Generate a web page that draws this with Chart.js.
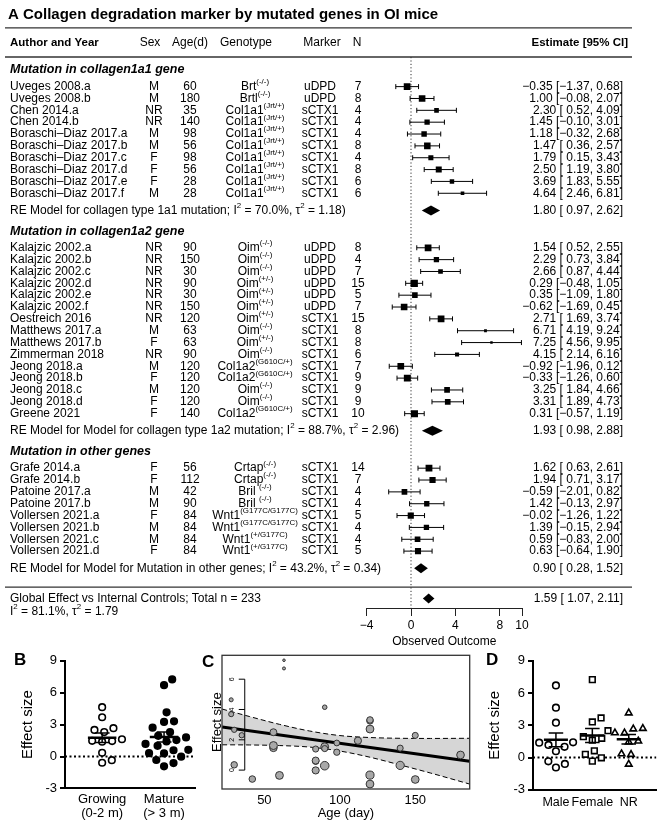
<!DOCTYPE html>
<html>
<head>
<meta charset="utf-8">
<script src="https://cdn.jsdelivr.net/npm/chart.js@4.4.1/dist/chart.umd.min.js"></script>
<style>
html, body { margin: 0; padding: 0; background: #fff; }
#wrap { position: relative; width: 662px; height: 825px; overflow: hidden; background: #fff;
        font-family: "Liberation Sans", Arial, Helvetica, sans-serif; }
canvas { position: absolute; }
.lab { position: absolute; font-weight: bold; font-size: 17px; line-height: 17px; }
</style>
</head>
<body>
<div id="wrap">
  <canvas id="forest" width="662" height="655" style="left:0;top:0"></canvas>
  <canvas id="panelB" width="220" height="175" style="left:0;top:650px"></canvas>
  <canvas id="panelC" width="275" height="175" style="left:200px;top:650px"></canvas>
  <canvas id="panelD" width="192" height="175" style="left:470px;top:650px"></canvas>
  <div class="lab" style="left:14px;top:651px">B</div>
  <div class="lab" style="left:202px;top:653px">C</div>
  <div class="lab" style="left:486px;top:651px">D</div>
</div>
<script>
const FONT = '"Liberation Sans", Arial, Helvetica, sans-serif';
Chart.defaults.font.family = FONT;
Chart.defaults.color = '#000';

// ---------- panel A data ----------
const authors = [
  'Uveges 2008.a', 'Uveges 2008.b', 'Chen 2014.a', 'Chen 2014.b',
  'Boraschi–Diaz 2017.a', 'Boraschi–Diaz 2017.b', 'Boraschi–Diaz 2017.c',
  'Boraschi–Diaz 2017.d', 'Boraschi–Diaz 2017.e', 'Boraschi–Diaz 2017.f',
  'Kalajzic 2002.a', 'Kalajzic 2002.b', 'Kalajzic 2002.c', 'Kalajzic 2002.d',
  'Kalajzic 2002.e', 'Kalajzic 2002.f', 'Oestreich 2016', 'Matthews 2017.a',
  'Matthews 2017.b', 'Zimmerman 2018', 'Jeong 2018.a', 'Jeong 2018.b',
  'Jeong 2018.c', 'Jeong 2018.d', 'Greene 2021',
  'Grafe 2014.a', 'Grafe 2014.b', 'Patoine 2017.a', 'Patoine 2017.b',
  'Vollersen 2021.a', 'Vollersen 2021.b', 'Vollersen 2021.c', 'Vollersen 2021.d'
];
const mutGroup = [0,0,0,0,0,0,0,0,0,0, 1,1,1,1,1,1,1,1,1,1,1,1,1,1,1, 2,2,2,2,2,2,2,2];
const sex = ['M','M','NR','NR','M','M','F','F','F','M',
  'NR','NR','NR','NR','NR','NR','NR','M','F','NR','M','F','M','F','F',
  'F','F','M','M','F','M','M','F'];
const ageDays = [60,180,35,140,98,56,98,56,28,28,
  90,150,30,90,30,150,120,63,63,90,120,120,120,120,140,
  56,112,42,90,84,84,84,84];
const genotype = [
  'Brt^{(-/-)}', 'Brtl^{(-/-)}', 'Col1a1^{(Jrt/+)}', 'Col1a1^{(Jrt/+)}', 'Col1a1^{(Jrt/+)}',
  'Col1a1^{(Jrt/+)}', 'Col1a1^{(Jrt/+)}', 'Col1a1^{(Jrt/+)}', 'Col1a1^{(Jrt/+)}', 'Col1a1^{(Jrt/+)}',
  'Oim^{(-/-)}', 'Oim^{(-/-)}', 'Oim^{(-/-)}', 'Oim^{(+/-)}', 'Oim^{(+/-)}', 'Oim^{(+/-)}',
  'Oim^{(+/-)}', 'Oim^{(-/-)}', 'Oim^{(+/-)}', 'Oim^{(-/-)}', 'Col1a2^{(G610C/+)}',
  'Col1a2^{(G610C/+)}', 'Oim^{(-/-)}', 'Oim^{(-/-)}', 'Col1a2^{(G610C/+)}',
  'Crtap^{(-/-)}', 'Crtap^{(-/-)}', 'Bril ^{(-/-)}', 'Bril ^{(-/-)}',
  'Wnt1^{(G177C/G177C)}', 'Wnt1^{(G177C/G177C)}', 'Wnt1^{(+/G177C)}', 'Wnt1^{(+/G177C)}'
];
const marker = ['uDPD','uDPD','sCTX1','sCTX1','sCTX1','sCTX1','sCTX1','sCTX1','sCTX1','sCTX1',
  'uDPD','uDPD','uDPD','uDPD','uDPD','uDPD','sCTX1','sCTX1','sCTX1','sCTX1','sCTX1','sCTX1','sCTX1','sCTX1','sCTX1',
  'sCTX1','sCTX1','sCTX1','sCTX1','sCTX1','sCTX1','sCTX1','sCTX1'];
const nMice = [7,8,4,4,4,8,4,8,6,6, 8,4,7,15,5,7,15,8,8,6,7,9,9,9,10, 14,7,4,4,5,4,4,5];
const estimate = [-0.35,1.00,2.30,1.45,1.18,1.47,1.79,2.50,3.69,4.64,
  1.54,2.29,2.66,0.29,0.35,-0.62,2.71,6.71,7.25,4.15,-0.92,-0.33,3.25,3.31,0.31,
  1.62,1.94,-0.59,1.42,-0.02,1.39,0.59,0.63];
const ciLow = [-1.37,-0.08,0.52,-0.10,-0.32,0.36,0.15,1.19,1.83,2.46,
  0.52,0.73,0.87,-0.48,-1.09,-1.69,1.69,4.19,4.56,2.14,-1.96,-1.26,1.84,1.89,-0.57,
  0.63,0.71,-2.01,-0.13,-1.26,-0.15,-0.83,-0.64];
const ciHigh = [0.68,2.07,4.09,3.01,2.68,2.57,3.43,3.80,5.55,6.81,
  2.55,3.84,4.44,1.05,1.80,0.45,3.74,9.24,9.95,6.16,0.12,0.60,4.66,4.73,1.19,
  2.61,3.17,0.82,2.97,1.22,2.94,2.00,1.90];

const groupTitles = ['Mutation in collagen1a1 gene', 'Mutation in collagen1a2 gene', 'Mutation in other genes'];
const reLabels = [
  'RE Model for collagen type 1a1 mutation; I^{2} = 70.0%, τ^{2} = 1.18)',
  'RE Model for Model for collagen type 1a2 mutation; I^{2} = 88.7%, τ^{2} = 2.96)',
  'RE Model for Model for Mutation in other genes; I^{2} = 43.2%, τ^{2} = 0.34)'
];
const reEst = [1.80, 1.93, 0.90];
const reLow = [0.97, 0.98, 0.28];
const reHigh = [2.62, 2.88, 1.52];
const globalLabel = 'Global Effect vs Internal Controls; Total n = 233';
const globalStats = 'I^{2} = 81.1%, τ^{2} = 1.79';
const globalEst = 1.59, globalLow = 1.07, globalHigh = 2.11;
const forestTicks = [-4, 0, 4, 8, 10];

// ---------- panel B / C / D data ----------
const growingEff = [4.64,3.69,2.66,2.50,2.30,1.62,1.47,1.45,1.39,0.35,-0.35,-0.59];
const matureEff = [7.25,6.71,4.15,3.31,3.25,2.71,2.29,1.94,1.79,1.54,1.42,1.18,1.00,0.63,0.59,0.31,0.29,-0.02,-0.33,-0.62,-0.92];
const bCats = [['Growing', '(0-2 m)'], ['Mature', '(> 3 m)']];
const dCats = ['Male', 'Female', 'NR'];
const fitAge = [22, 186];
const fitEff = [2.85, 0.59];
const bandAge = [22, 40, 60, 80, 100, 120, 140, 160, 186];
const bandUpper = [4.03, 3.54, 3.02, 2.58, 2.28, 2.15, 2.10, 2.09, 2.10];
const bandLower = [1.67, 1.66, 1.62, 1.52, 1.26, 0.85, 0.34, -0.19, -0.92];
const cAxisTicks = [50, 100, 150];
const strayTicks = [0, 2, 4, 6];

// ---------- forest row layout ----------
const rows = [], titleRows = [], reRows = [];
let r = 1;
for (let g = 0; g < 3; g++) {
  titleRows[g] = r - 1.4;
  mutGroup.forEach((m, i) => { if (m === g) { rows[i] = r; r += 1; } });
  reRows[g] = r - 1 + 1.45;
  r = reRows[g] + 1.75 + 1.4;
}
const ruleRow = reRows[2] + 1.58;
const globalRow = reRows[2] + 2.55;
const statsRow = globalRow + 1.1;

// marker sizes from the study weights
const se = ciHigh.map((h, i) => (h - ciLow[i]) / 3.92);
const wt = se.map(s => 1 / (s * s + 1.79));
const wMin = Math.min(...wt), wMax = Math.max(...wt);
const wScaled = wt.map(w => (w - wMin) / (wMax - wMin));

const minus = v => (v < 0 ? '\u2212' : '') + Math.abs(v).toFixed(2);
const ciText = (e, lo, hi) => minus(e) + ' [' + (lo < 0 ? '' : ' ') + minus(lo) + ', ' + minus(hi) + ']';

function richText(ctx, str, x, y, size, align, style) {
  const parts = [];
  str.split(/(\^\{[^}]*\})/).forEach(p => {
    if (!p) return;
    if (p.startsWith('^{')) parts.push({ t: p.slice(2, -1), sup: true });
    else parts.push({ t: p, sup: false });
  });
  const font = s => (style || '') + ' ' + s + 'px ' + FONT;
  let w = 0;
  parts.forEach(p => { ctx.font = font(p.sup ? size * 0.66 : size); p.w = ctx.measureText(p.t).width; w += p.w; });
  let cx = align === 'center' ? x - w / 2 : align === 'right' ? x - w : x;
  ctx.textAlign = 'left';
  ctx.textBaseline = 'middle';
  parts.forEach(p => {
    ctx.font = font(p.sup ? size * 0.66 : size);
    ctx.fillText(p.t, cx, p.sup ? y - size * 0.4 : y);
    cx += p.w;
  });
}

const forestPlugin = {
  id: 'forestPlugin',
  beforeDatasetsDraw(chart) {
    const { ctx, chartArea: a, scales: { x, y } } = chart;
    ctx.save();
    ctx.strokeStyle = '#333';
    ctx.lineWidth = 1;
    ctx.setLineDash([1.2, 2.2]);
    const x0 = x.getPixelForValue(0);
    ctx.beginPath(); ctx.moveTo(x0, a.top); ctx.lineTo(x0, a.bottom); ctx.stroke();
    ctx.setLineDash([]);
    ctx.strokeStyle = '#000';
    estimate.forEach((e, i) => {
      const yy = y.getPixelForValue(rows[i]);
      const x1 = x.getPixelForValue(ciLow[i]), x2 = x.getPixelForValue(ciHigh[i]);
      ctx.beginPath();
      ctx.moveTo(x1, yy); ctx.lineTo(x2, yy);
      ctx.moveTo(x1, yy - 2.5); ctx.lineTo(x1, yy + 2.5);
      ctx.moveTo(x2, yy - 2.5); ctx.lineTo(x2, yy + 2.5);
      ctx.stroke();
    });
    const diamond = (e, lo, hi, row) => {
      const yy = y.getPixelForValue(row);
      ctx.beginPath();
      ctx.moveTo(x.getPixelForValue(lo), yy);
      ctx.lineTo(x.getPixelForValue(e), yy - 5);
      ctx.lineTo(x.getPixelForValue(hi), yy);
      ctx.lineTo(x.getPixelForValue(e), yy + 5);
      ctx.closePath();
      ctx.fillStyle = '#000';
      ctx.fill();
    };
    reEst.forEach((e, g) => diamond(e, reLow[g], reHigh[g], reRows[g]));
    diamond(globalEst, globalLow, globalHigh, globalRow);
    ctx.restore();
  },
  afterDraw(chart) {
    const { ctx, scales: { y } } = chart;
    ctx.save();
    ctx.fillStyle = '#000';
    // rules
    ctx.strokeStyle = '#333';
    ctx.lineWidth = 1.3;
    [-3.95, -1.5, ruleRow].forEach(rr => {
      const yy = y.getPixelForValue(rr);
      ctx.beginPath(); ctx.moveTo(5, yy); ctx.lineTo(632, yy); ctx.stroke();
    });
    // header
    const hy = y.getPixelForValue(-2.68);
    richText(ctx, 'Author and Year', 10, hy, 11.5, 'left', 'bold');
    richText(ctx, 'Sex', 150, hy, 12, 'center');
    richText(ctx, 'Age(d)', 190, hy, 12, 'center');
    richText(ctx, 'Genotype', 246, hy, 12, 'center');
    richText(ctx, 'Marker', 322, hy, 12, 'center');
    richText(ctx, 'N', 357, hy, 12, 'center');
    richText(ctx, 'Estimate [95% CI]', 628, hy, 11.5, 'right', 'bold');
    // group titles and RE rows
    groupTitles.forEach((t, g) => {
      richText(ctx, t, 10, y.getPixelForValue(titleRows[g]), 12.5, 'left', 'italic bold');
      const ry = y.getPixelForValue(reRows[g]);
      richText(ctx, reLabels[g], 10, ry, 12, 'left');
      richText(ctx, ciText(reEst[g], reLow[g], reHigh[g]), 623, ry, 12, 'right');
    });
    // studies
    authors.forEach((name, i) => {
      const yy = y.getPixelForValue(rows[i]);
      richText(ctx, name, 10, yy, 12, 'left');
      richText(ctx, sex[i], 154, yy, 12, 'center');
      richText(ctx, String(ageDays[i]), 190, yy, 12, 'center');
      richText(ctx, genotype[i], 255, yy, 12, 'center');
      richText(ctx, marker[i], 320, yy, 12, 'center');
      richText(ctx, String(nMice[i]), 358, yy, 12, 'center');
      richText(ctx, ciText(estimate[i], ciLow[i], ciHigh[i]), 623, yy, 12, 'right');
    });
    const gy = y.getPixelForValue(globalRow);
    richText(ctx, globalLabel, 10, gy, 12, 'left');
    richText(ctx, ciText(globalEst, globalLow, globalHigh), 623, gy, 12, 'right');
    richText(ctx, globalStats, 10, y.getPixelForValue(statsRow), 12, 'left');
    ctx.restore();
  }
};

new Chart(document.getElementById('forest'), {
  type: 'scatter',
  data: {
    datasets: [{
      data: estimate.map((e, i) => ({ x: e, y: rows[i] })),
      pointStyle: 'rect',
      pointRadius: wScaled.map(s => 3.46 * (0.5 + s)),
      pointBackgroundColor: '#000',
      pointBorderWidth: 0
    }]
  },
  options: {
    responsive: false, animation: false, events: [],
    layout: { padding: { left: 8, right: 0, top: 0, bottom: 6.2 } },
    plugins: {
      legend: { display: false }, tooltip: { enabled: false },
      title: {
        display: true, align: 'start', color: '#000',
        text: 'A Collagen degradation marker by mutated genes in OI mice',
        font: { size: 15, weight: 'bold' }, padding: { top: 6, bottom: 33 }
      }
    },
    scales: {
      x: {
        type: 'linear', min: -4, max: 10,
        border: { color: '#222', width: 1 },
        grid: { drawOnChartArea: false, tickLength: 8, color: '#222', lineWidth: 1 },
        afterBuildTicks: s => { s.ticks = forestTicks.map(v => ({ value: v })); },
        ticks: { font: { size: 12 }, padding: 2, maxRotation: 0,
          callback: v => (v < 0 ? '\u2212' + Math.abs(v) : String(v)) },
        title: { display: true, text: 'Observed Outcome', font: { size: 12 }, padding: { top: 0, bottom: 0 } }
      },
      y: {
        type: 'linear', reverse: true, min: -1.5, max: 45,
        ticks: { display: false }, grid: { display: false }, border: { display: false },
        afterFit: s => { s.width = 358.6; }
      },
      yRight: {
        type: 'linear', position: 'right',
        ticks: { display: false }, grid: { display: false }, border: { display: false },
        afterFit: s => { s.width = 140; }
      }
    }
  },
  plugins: [forestPlugin]
});

// ---------- dot plots (B, D) ----------
function swarm(vals, pxY, dist) {
  const idx = vals.map((v, i) => i).sort((a, b) => vals[a] - vals[b]);
  const placed = [], out = [];
  idx.forEach(i => {
    const yy = vals[i] * pxY;
    const cands = [0];
    placed.forEach(p => {
      const dy = Math.abs(p.y - yy);
      if (dy < dist) { const dx = Math.sqrt(dist * dist - dy * dy); cands.push(p.x + dx, p.x - dx); }
    });
    cands.sort((a, b) => Math.abs(a) - Math.abs(b));
    let best = 0;
    for (const c of cands) {
      if (placed.every(p => Math.hypot(p.x - c, p.y - yy) >= dist - 1e-6)) { best = c; break; }
    }
    placed.push({ x: best, y: yy });
    out[i] = best;
  });
  return out;
}
const mean = a => a.reduce((s, v) => s + v, 0) / a.length;
const sem = a => { const m = mean(a); return Math.sqrt(a.reduce((s, v) => s + (v - m) * (v - m), 0) / (a.length - 1)) / Math.sqrt(a.length); };
const seg = (pts, width, order, dash) => ({
  data: pts.map(p => ({ x: p[0], y: p[1] })), showLine: true, borderColor: '#000',
  borderWidth: width, pointRadius: 0, borderDash: dash || [], order: order
});

function dotChart(id, o) {
  const datasets = [];
  const pxX = o.plotW / (o.xMax - o.xMin), pxY = o.plotH / 12;
  o.groups.forEach((vals, g) => {
    const off = swarm(vals, pxY, 10);
    const m = mean(vals), s = sem(vals);
    datasets.push(seg([[g - o.half, m], [g + o.half, m]], 2.5, 0));
    datasets.push(seg([[g, m - s], [g, m + s]], 1.5, 0));
    datasets.push(seg([[g - o.cap, m + s], [g + o.cap, m + s]], 1.5, 0));
    datasets.push(seg([[g - o.cap, m - s], [g + o.cap, m - s]], 1.5, 0));
    datasets.push({
      data: vals.map((v, k) => ({ x: g + off[k] / pxX, y: v })),
      pointStyle: o.styles[g].shape, pointRadius: o.styles[g].r,
      pointBorderWidth: 1.6, pointBorderColor: '#000', pointBackgroundColor: o.styles[g].fill, order: 5
    });
  });
  datasets.push(seg([[o.xMin, 0], [o.xMax, 0]], 2, 6, [2, 2.5]));
  new Chart(document.getElementById(id), {
    type: 'scatter',
    data: { datasets },
    options: {
      responsive: false, animation: false, events: [],
      layout: { padding: { left: 0, right: o.padR, top: o.padT, bottom: o.padB } },
      plugins: { legend: { display: false }, tooltip: { enabled: false } },
      scales: {
        x: {
          type: 'linear', min: o.xMin, max: o.xMax,
          border: { color: '#000', width: 2 },
          grid: { display: false, drawTicks: false },
          afterBuildTicks: s => { s.ticks = o.cats.map((c, i) => ({ value: i })); },
          ticks: { font: { size: o.catSize, lineHeight: 1.1 }, padding: o.tickPad, maxRotation: 0, autoSkip: false,
            callback: v => o.cats[v] }
        },
        y: {
          type: 'linear', min: -3, max: 9,
          border: { color: '#000', width: 2 },
          grid: { drawOnChartArea: false, tickLength: 5, color: '#000', lineWidth: 2 },
          ticks: { stepSize: 3, font: { size: 13 }, padding: 3 },
          title: { display: true, text: 'Effect size', font: { size: 15 }, padding: { top: o.titlePad, bottom: 0 } },
          afterFit: s => { s.width = o.axisW; }
        }
      }
    }
  });
}

dotChart('panelB', {
  groups: [growingEff, matureEff], cats: bCats, catSize: 13,
  styles: [{ shape: 'circle', r: 3.3, fill: '#fff' }, { shape: 'circle', r: 3.3, fill: '#000' }],
  xMin: -0.6, xMax: 1.5, plotW: 130, plotH: 129, half: 0.23, cap: 0.12,
  padR: 25, padT: 7, padB: 0, tickPad: 4, titlePad: 19, axisW: 65
});

dotChart('panelD', {
  groups: dCats.map(c => estimate.filter((e, i) => sex[i] === (c === 'Male' ? 'M' : c === 'Female' ? 'F' : 'NR'))),
  cats: dCats, catSize: 12.5,
  styles: [{ shape: 'circle', r: 3.3, fill: '#fff' }, { shape: 'rect', r: 4, fill: '#fff' }, { shape: 'triangle', r: 3.8, fill: '#fff' }],
  xMin: -0.63, xMax: 2.76, plotW: 129, plotH: 128, half: 0.33, cap: 0.2,
  padR: 0, padT: 10, padB: 9.4, tickPad: 6, titlePad: 16, axisW: 63
});

// ---------- meta-regression (C) ----------
const cPlugin = {
  id: 'cPlugin',
  afterDatasetsDraw(chart) {
    const { ctx, chartArea: a, scales: { x, y } } = chart;
    ctx.save();
    ctx.strokeStyle = '#333';
    ctx.lineWidth = 1.3;
    ctx.strokeRect(a.left, a.top, a.right - a.left, a.bottom - a.top);
    const ax = x.getPixelForValue(37);
    ctx.strokeStyle = '#000';
    ctx.lineWidth = 1;
    ctx.beginPath();
    ctx.moveTo(ax, y.getPixelForValue(strayTicks[0]));
    ctx.lineTo(ax, y.getPixelForValue(strayTicks[strayTicks.length - 1]));
    strayTicks.forEach(t => { const yy = y.getPixelForValue(t); ctx.moveTo(ax - 6, yy); ctx.lineTo(ax, yy); });
    ctx.stroke();
    ctx.fillStyle = '#000';
    ctx.font = '7px ' + FONT;
    ctx.textAlign = 'center';
    ctx.textBaseline = 'middle';
    strayTicks.forEach(t => {
      ctx.save();
      ctx.translate(ax - 13, y.getPixelForValue(t));
      ctx.rotate(-Math.PI / 2);
      ctx.fillText(String(t), 0, 0);
      ctx.restore();
    });
    ctx.save();
    ctx.translate(17, (a.top + a.bottom) / 2);
    ctx.rotate(-Math.PI / 2);
    ctx.font = '13px ' + FONT;
    ctx.fillText('Effect size', 0, 0);
    ctx.restore();
    ctx.restore();
  }
};

new Chart(document.getElementById('panelC'), {
  type: 'scatter',
  data: {
    datasets: [
      { data: ageDays.map((a, i) => ({ x: a, y: estimate[i] })),
        pointRadius: wScaled.map(s => 1.3 + 3 * s), pointBackgroundColor: '#a8a8a8',
        pointBorderColor: '#333', pointBorderWidth: 1, order: 0 },
      { data: fitAge.map((a, i) => ({ x: a, y: fitEff[i] })), showLine: true,
        borderColor: '#000', borderWidth: 3, pointRadius: 0, order: 1 },
      { data: bandAge.map((a, i) => ({ x: a, y: bandUpper[i] })), showLine: true,
        borderColor: '#000', borderWidth: 1, borderDash: [5, 3], pointRadius: 0,
        cubicInterpolationMode: 'monotone', fill: '+1', backgroundColor: '#d6d6d6', order: 2 },
      { data: bandAge.map((a, i) => ({ x: a, y: bandLower[i] })), showLine: true,
        borderColor: '#000', borderWidth: 1, borderDash: [5, 3], pointRadius: 0,
        cubicInterpolationMode: 'monotone', fill: false, order: 3 }
    ]
  },
  options: {
    responsive: false, animation: false, events: [],
    layout: { padding: { left: 22, right: 3, top: 5, bottom: 4.1 } },
    plugins: { legend: { display: false }, tooltip: { enabled: false }, filler: { drawTime: 'beforeDatasetsDraw' } },
    scales: {
      x: {
        type: 'linear', min: 21.92, max: 186.08,
        border: { display: false }, grid: { display: false, drawTicks: false },
        afterBuildTicks: s => { s.ticks = cAxisTicks.map(v => ({ value: v })); },
        ticks: { font: { size: 13, lineHeight: 1.1 }, padding: 4, maxRotation: 0 },
        title: { display: true, text: 'Age (day)', font: { size: 13 }, padding: { top: -6, bottom: 0 } }
      },
      y: { type: 'linear', display: false, min: -1.247, max: 7.577 }
    }
  },
  plugins: [cPlugin]
});
</script>
</body>
</html>
